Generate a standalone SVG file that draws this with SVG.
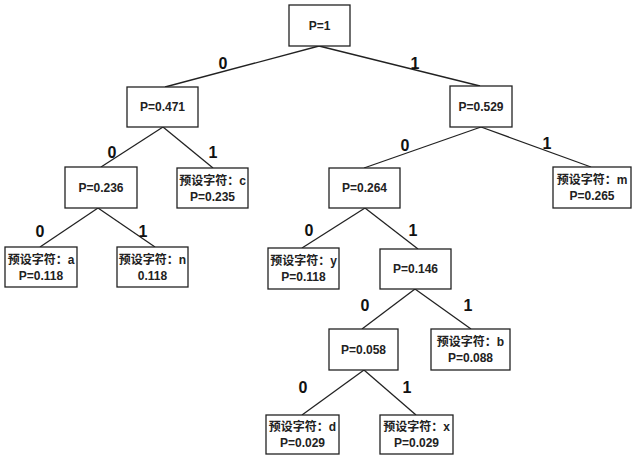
<svg xmlns="http://www.w3.org/2000/svg" width="640" height="457" viewBox="0 0 640 457">
<style>
.b{fill:#fff;stroke:#222;stroke-width:1.3}
.t{font-family:"Liberation Sans","Noto Sans CJK SC",sans-serif;font-size:12px;font-weight:bold;fill:#222;text-anchor:middle}
.l{font-family:"Liberation Sans",sans-serif;font-size:16px;font-weight:bold;fill:#111;text-anchor:middle}
.c line{stroke:#222;stroke-width:1.3}
</style>
<rect width="640" height="457" fill="#fff"/>
<g class="c" id="connectors">
<line x1="319" y1="46" x2="165" y2="87"/><line x1="319" y1="46" x2="480" y2="86"/>
<line x1="163" y1="127" x2="101" y2="167"/><line x1="163" y1="127" x2="213" y2="168"/>
<line x1="481" y1="127" x2="364" y2="168"/><line x1="481" y1="127" x2="591" y2="167"/>
<line x1="98" y1="208" x2="40" y2="247"/><line x1="98" y1="208" x2="155" y2="247"/>
<line x1="365" y1="208" x2="302" y2="248"/><line x1="365" y1="208" x2="418" y2="249"/>
<line x1="415" y1="289" x2="362" y2="329"/><line x1="415" y1="289" x2="471" y2="329"/>
<line x1="364" y1="370" x2="302" y2="415"/><line x1="364" y1="370" x2="416" y2="415"/>
<text class="l" x="223" y="69">0</text><text class="l" x="415" y="69">1</text>
<text class="l" x="112" y="158">0</text><text class="l" x="213" y="158">1</text>
<text class="l" x="405" y="151">0</text><text class="l" x="547" y="149">1</text>
<text class="l" x="40" y="237">0</text><text class="l" x="143" y="237">1</text>
<text class="l" x="309" y="236">0</text><text class="l" x="413" y="236">1</text>
<text class="l" x="365" y="311">0</text><text class="l" x="468" y="311">1</text>
<text class="l" x="303" y="393">0</text><text class="l" x="407" y="393">1</text>
</g>
<g id="n1"><rect class="b" x="289" y="5" width="61" height="41"/><text class="t" x="319.5" y="30">P=1</text></g>
<g id="n0471"><rect class="b" x="127" y="87" width="71" height="40"/><text class="t" x="162.5" y="111">P=0.471</text></g>
<g id="n0529"><rect class="b" x="450" y="86" width="62" height="41"/><text class="t" x="481" y="111">P=0.529</text></g>
<g id="n0236"><rect class="b" x="65" y="167" width="72" height="41"/><text class="t" x="101" y="192">P=0.236</text></g>
<g id="nc"><rect class="b" x="177" y="168" width="71" height="40"/><text class="t" x="212.5" y="185">预设字符：c</text><text class="t" x="212.5" y="201">P=0.235</text></g>
<g id="n0264"><rect class="b" x="329" y="168" width="71" height="40"/><text class="t" x="364.5" y="192">P=0.264</text></g>
<g id="nm"><rect class="b" x="553" y="167" width="78" height="41"/><text class="t" x="592" y="184">预设字符：m</text><text class="t" x="592" y="200">P=0.265</text></g>
<g id="na"><rect class="b" x="5" y="247" width="72" height="40"/><text class="t" x="41" y="264">预设字符：a</text><text class="t" x="41" y="280">P=0.118</text></g>
<g id="nn"><rect class="b" x="117" y="247" width="71" height="40"/><text class="t" x="152.5" y="264">预设字符：n</text><text class="t" x="152.5" y="280">0.118</text></g>
<g id="ny"><rect class="b" x="268" y="248" width="71" height="41"/><text class="t" x="303.5" y="265">预设字符：y</text><text class="t" x="303.5" y="281">P=0.118</text></g>
<g id="n0146"><rect class="b" x="380" y="249" width="71" height="40"/><text class="t" x="415.5" y="273">P=0.146</text></g>
<g id="n0058"><rect class="b" x="329" y="329" width="69" height="41"/><text class="t" x="363.5" y="354">P=0.058</text></g>
<g id="nb"><rect class="b" x="431" y="329" width="79" height="41"/><text class="t" x="470.5" y="346">预设字符：b</text><text class="t" x="470.5" y="362">P=0.088</text></g>
<g id="nd"><rect class="b" x="266" y="415" width="73" height="39"/><text class="t" x="302.5" y="431">预设字符：d</text><text class="t" x="302.5" y="447">P=0.029</text></g>
<g id="nx"><rect class="b" x="380" y="415" width="73" height="39"/><text class="t" x="416.5" y="431">预设字符：x</text><text class="t" x="416.5" y="447">P=0.029</text></g>
</svg>
